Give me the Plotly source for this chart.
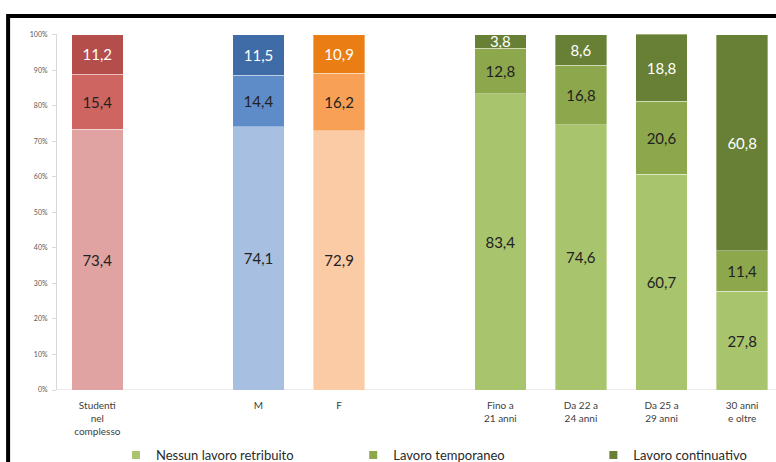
import plotly.graph_objects as go

# Share of students by type of paid work, per group (percent)
categories = [
    "Studenti<br>nel<br>complesso",
    "M",
    "F",
    "Fino a<br>21 anni",
    "Da 22 a<br>24 anni",
    "Da 25 a<br>29 anni",
    "30 anni<br>e oltre",
]
nessun_lavoro = [73.4, 74.1, 72.9, 83.4, 74.6, 60.7, 27.8]
lavoro_temporaneo = [15.4, 14.4, 16.2, 12.8, 16.8, 20.6, 11.4]
lavoro_continuativo = [11.2, 11.5, 10.9, 3.8, 8.6, 18.8, 60.8]

series_names = ["Nessun lavoro retribuito", "Lavoro temporaneo", "Lavoro continuativo"]

# Palette per group: total (red), men (blue), women (orange), age bands (green)
red = ["#E0A3A2", "#CF6561", "#B34E4B"]
blue = ["#A7C0E1", "#5D8CC8", "#3F6CA6"]
orange = ["#FBCBA5", "#F8A156", "#EA7D13"]
green = ["#A8C46C", "#8CA74C", "#687F36"]
group_palette = [red, blue, orange, green, green, green, green]

# Category slots, with blank spacers between the groups
slot_order = [categories[0], " ", categories[1], categories[2], "  ",
              categories[3], categories[4], categories[5], categories[6]]

FONT = "Lato"
DARK = "#222222"

fig = go.Figure()

layers = [nessun_lavoro, lavoro_temporaneo, lavoro_continuativo]
for level, values in enumerate(layers):
    fig.add_trace(go.Bar(
        x=categories,
        y=values,
        name=series_names[level],
        showlegend=False,
        width=0.64,
        marker=dict(color=[p[level] for p in group_palette],
                    line=dict(color="rgba(255,255,255,0.6)", width=0.6)),
        texttemplate="%{y:.1f}",
        textposition="inside",
        insidetextanchor="middle",
        constraintext="none",
        textangle=0,
        textfont=dict(family=FONT, size=15,
                      color="#FFFFFF" if level == 2 else DARK),
        cliponaxis=False,
        hoverinfo="skip",
    ))

# Legend entries, each in its own legend box along the bottom
legend_keys = ["legend", "legend2", "legend3"]
for name, col, key in zip(series_names, green, legend_keys):
    fig.add_trace(go.Scatter(
        x=[None], y=[None], mode="markers", name=name,
        marker=dict(symbol="square", size=8, color=col),
        legend=key, showlegend=True,
    ))

legend_style = dict(orientation="h", yanchor="middle", xanchor="left",
                    y=-0.183, bgcolor="rgba(0,0,0,0)", borderwidth=0,
                    font=dict(family=FONT, size=13, color="#2A2A2A"),
                    itemwidth=30)

fig.update_layout(
    width=776,
    height=462,
    barmode="stack",
    separators=",.",
    plot_bgcolor="white",
    paper_bgcolor="white",
    margin=dict(l=57, r=0, t=34, b=72, autoexpand=False),
    font=dict(family=FONT),
    legend=dict(x=0.082, **legend_style),
    legend2=dict(x=0.412, **legend_style),
    legend3=dict(x=0.746, **legend_style),
    xaxis=dict(
        type="category",
        categoryorder="array",
        categoryarray=slot_order,
        range=[-0.5, 8.42],
        showgrid=False,
        showline=False,
        ticks="",
        ticklabelstandoff=8,
        tickfont=dict(family=FONT, size=10, color="#404040"),
        zeroline=False,
    ),
    yaxis=dict(
        range=[0, 100.15],
        tick0=0,
        dtick=10,
        ticksuffix="%",
        showgrid=False,
        zeroline=False,
        showline=True,
        linecolor="#D9D9D9",
        linewidth=1,
        ticks="outside",
        ticklen=4,
        tickcolor="#D9D9D9",
        tickfont=dict(family=FONT, size=7, color="#595959"),
        ticklabelstandoff=3,
    ),
    shapes=[
        # baseline at 0%
        dict(type="line", xref="paper", yref="y", x0=0, x1=1, y0=0, y1=0,
             line=dict(color="#D9D9D9", width=1), layer="below"),
        # black frame around the chart
        dict(type="path", xref="paper", yref="paper",
             path="M -0.068,-0.35 L -0.068,1.0506 L 1.05,1.0506",
             line=dict(color="black", width=4)),
    ],
)

fig.write_html("out.html")
